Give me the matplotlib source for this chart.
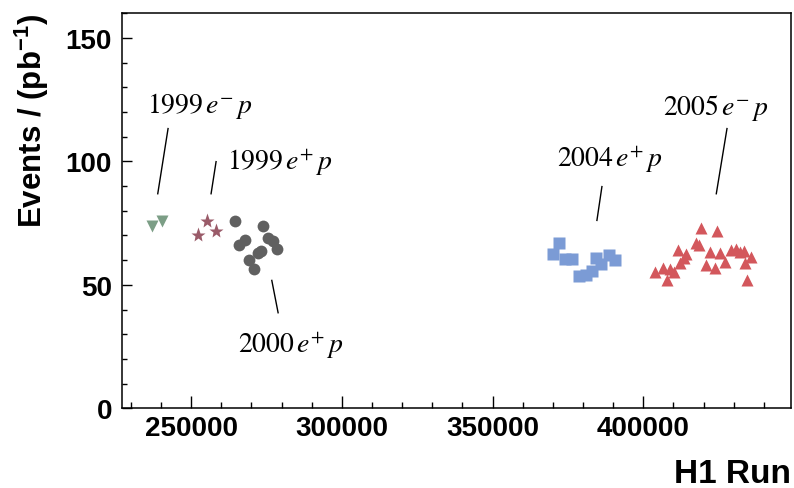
from matplotlib import pyplot as plt
from matplotlib.ticker import MultipleLocator

plt.rcParams['font.family'] = ['Liberation Sans', 'DejaVu Sans']
plt.rcParams['mathtext.fontset'] = 'custom'
plt.rcParams['mathtext.bf'] = 'Liberation Sans:bold'
plt.rcParams['mathtext.rm'] = 'Liberation Sans:bold'

# 1999 e-p
run_99m = [236960, 240280]
ev_99m = [74.0, 76.0]

# 1999 e+p
run_99p = [255410, 252220, 258200]
ev_99p = [75.7, 70.0, 71.7]

# 2000 e+p
run_00p = [264600, 273990, 267920, 266030, 275650, 277310, 278435, 273230, 272130, 269345, 270900]
ev_00p = [76.0, 73.8, 68.1, 66.3, 69.1, 67.6, 64.6, 63.9, 63.0, 59.9, 56.5]

# 2004 e+p
run_04p = [371870, 370010, 374090, 376310, 384380, 388690, 390680, 385940, 382950, 381060, 378510]
ev_04p = [67.1, 62.3, 60.3, 60.3, 61.0, 61.9, 59.9, 58.5, 55.8, 53.8, 53.6]

# 2005 e-p
run_05m = [419120, 424430, 417460, 418320, 411350, 414240, 413340, 412250, 422200, 425290,
           427180, 420880, 423630, 429170, 430730, 432160, 433250, 435810, 433820, 434380,
           403950, 406380, 408930, 410030, 407840]
ev_05m = [73.0, 71.7, 67.1, 66.3, 64.3, 62.6, 60.9, 58.8, 63.3, 62.9,
          59.2, 58.1, 56.8, 64.3, 64.6, 63.5, 63.9, 61.3, 58.8, 51.8,
          55.2, 56.8, 56.5, 55.2, 51.8]

# labels: text, text pos, line start, line end
labels = [
    (r"$1999\,e^{-}\,p$", (235400, 120.2), (242370, 113.3), (238950, 86.9)),
    (r"$1999\,e^{+}\,p$", (261850, 97.1), (258295, 99.9), (256636, 86.9)),
    (r"$2000\,e^{+}\,p$", (265595, 22.8), (276775, 51.8), (278870, 38.7)),
    (r"$2004\,e^{+}\,p$", (371340, 98.0), (386270, 89.8), (384610, 76.1)),
    (r"$2005\,e^{-}\,p$", (406610, 119.4), (427750, 113.3), (424200, 86.9)),
]

fig = plt.figure(figsize=(7.94, 4.89), dpi=100)
ax = fig.add_axes([0.1533, 0.163, 0.843, 0.8078])

ax.plot(run_99m, ev_99m, 'v', color='#7c9e86', ms=8.5, mec='none')
ax.plot(run_99p, ev_99p, '*', color='#9a5b69', ms=11, mec='none')
ax.plot(run_00p, ev_00p, 'o', color='#606060', ms=8.5, mec='none')
ax.plot(run_04p, ev_04p, 's', color='#7b9bd5', ms=8, mec='none')
ax.plot(run_05m, ev_05m, '^', color='#d3575c', ms=8.5, mec='none')

for txt, pos, p1, p2 in labels:
    ax.text(pos[0], pos[1], txt, fontsize=20, math_fontfamily='stix', ha='left', va='baseline')
    ax.plot([p1[0], p2[0]], [p1[1], p2[1]], color='black', lw=1)

ax.set_xlim(227000, 449000)
ax.set_ylim(0, 160)
ax.xaxis.set_major_locator(MultipleLocator(50000))
ax.xaxis.set_minor_locator(MultipleLocator(10000))
ax.yaxis.set_major_locator(MultipleLocator(50))
ax.yaxis.set_minor_locator(MultipleLocator(10))

ax.tick_params(which='both', direction='in', top=False, right=False, width=1)
ax.tick_params(axis='x', which='major', length=8.5, pad=4.5)
ax.tick_params(axis='x', which='minor', length=4.3)
ax.tick_params(axis='y', which='major', length=7, pad=7)
ax.tick_params(axis='y', which='minor', length=3.5)
for lab in ax.get_xticklabels() + ax.get_yticklabels():
    lab.set_fontsize(20)
    lab.set_fontweight('bold')
for s in ax.spines.values():
    s.set_linewidth(1.1)

ax.set_ylabel(r"Events / (pb$^{\mathbf{-1}}$)", fontsize=22.5, fontweight='bold', loc='top')
ax.yaxis.set_label_coords(-0.105, 1.0)
ax.set_xlabel("H1 Run", fontsize=24, fontweight='bold', loc='right')
ax.xaxis.set_label_coords(1.0, -0.125)

plt.savefig('out.png', dpi=100)
